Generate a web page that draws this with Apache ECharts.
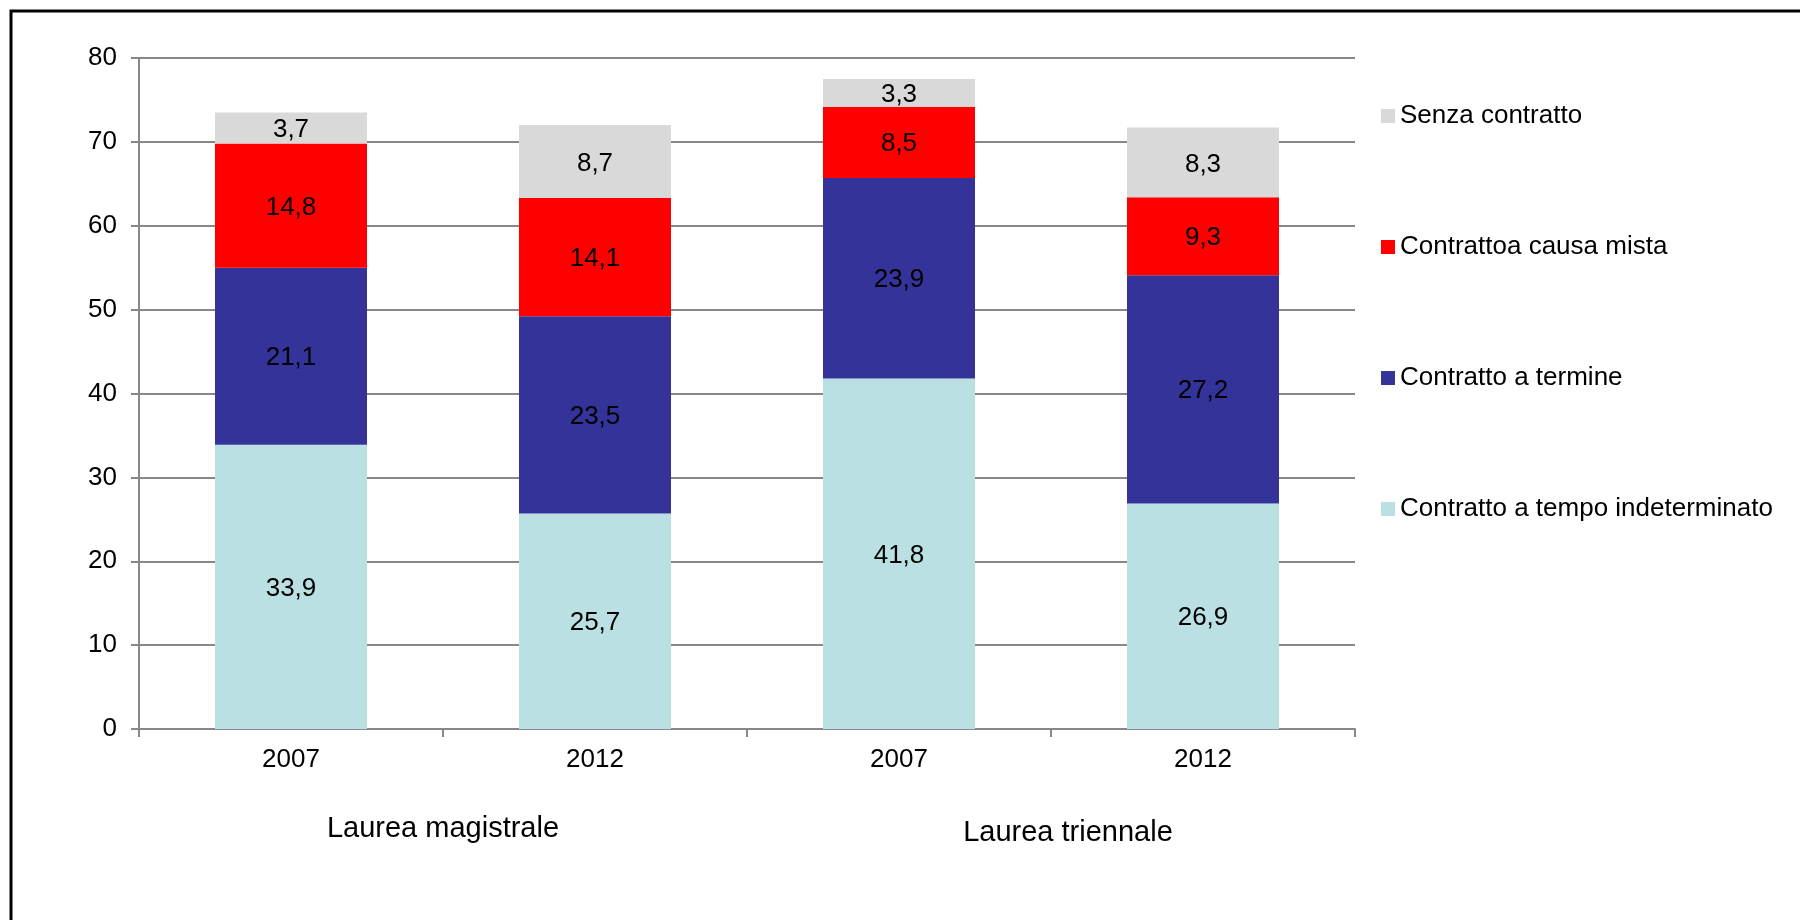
<!DOCTYPE html>
<html>
<head>
<meta charset="utf-8">
<script src="https://cdn.jsdelivr.net/npm/echarts@6/dist/echarts.min.js"></script>
<style>
html,body{margin:0;padding:0;background:#fff;}
#chart{width:1800px;height:920px;}
</style>
</head>
<body>
<div id="chart"></div>
<script>
const categories = ['2007', '2012', '2007', '2012'];
const groups = ['Laurea magistrale', 'Laurea triennale'];
const seriesNames = ['Contratto a tempo indeterminato', 'Contratto a termine', 'Contrattoa causa mista', 'Senza contratto'];
const indeterminato = [33.9, 25.7, 41.8, 26.9];
const termine = [21.1, 23.5, 23.9, 27.2];
const causaMista = [14.8, 14.1, 8.5, 9.3];
const senzaContratto = [3.7, 8.7, 3.3, 8.3];
const yTicks = [0, 10, 20, 30, 40, 50, 60, 70, 80];

const colors = ['#BAE0E3', '#333399', '#FF0000', '#D9D9D9'];
const values = [indeterminato, termine, causaMista, senzaContratto];
const FONT = 'Liberation Sans, Arial, sans-serif';

const chart = echarts.init(document.getElementById('chart'), null, {renderer: 'canvas'});

const series = seriesNames.map((name, i) => ({
  name: name,
  type: 'bar',
  stack: 'total',
  xAxisIndex: 0,
  barWidth: '50%',
  data: values[i],
  itemStyle: {color: colors[i]},
  label: {
    show: true,
    position: 'inside',
    color: '#000',
    fontFamily: FONT,
    fontSize: 26,
    offset: [0, 2],
    formatter: p => String(p.value).replace('.', ',')
  },
  emphasis: {disabled: true}
}));

const groupData = groups.map((g, i) => i === 1
  ? {value: g, textStyle: {padding: [4, 0, 0, 34]}}
  : g);

chart.setOption({
  animation: false,
  backgroundColor: '#fff',
  textStyle: {fontFamily: FONT},
  grid: {left: 139, right: 445, top: 58, bottom: 191, containLabel: false},
  legend: {
    orient: 'vertical',
    left: 1376,
    top: 98,
    itemWidth: 14,
    itemHeight: 14,
    itemGap: 105,
    icon: 'rect',
    data: seriesNames.slice().reverse(),
    textStyle: {fontSize: 26, color: '#000', fontFamily: FONT}
  },
  xAxis: [{
    type: 'category',
    data: categories,
    axisLine: {lineStyle: {color: '#888888', width: 2}},
    axisTick: {show: true, length: 8, lineStyle: {color: '#888888', width: 2}},
    axisLabel: {fontSize: 26, color: '#000', margin: 18, fontFamily: FONT}
  }, {
    type: 'category',
    position: 'bottom',
    data: groupData,
    axisLine: {show: false},
    axisTick: {show: false},
    axisLabel: {fontSize: 29, color: '#000', margin: 85, fontFamily: FONT}
  }],
  yAxis: {
    type: 'value',
    min: yTicks[0],
    max: yTicks[yTicks.length - 1],
    interval: yTicks[1] - yTicks[0],
    axisLine: {show: true, lineStyle: {color: '#888888', width: 2}},
    axisTick: {show: true, length: 8, lineStyle: {color: '#888888', width: 2}},
    axisLabel: {fontSize: 26, color: '#000', margin: 22, fontFamily: FONT},
    splitLine: {show: true, lineStyle: {color: '#888888', width: 2}}
  },
  graphic: [{
    type: 'rect',
    shape: {x: 11, y: 11, width: 1800, height: 920},
    style: {fill: null, stroke: '#000', lineWidth: 3},
    silent: true,
    z: 100
  }],
  series: series
});
</script>
</body>
</html>
